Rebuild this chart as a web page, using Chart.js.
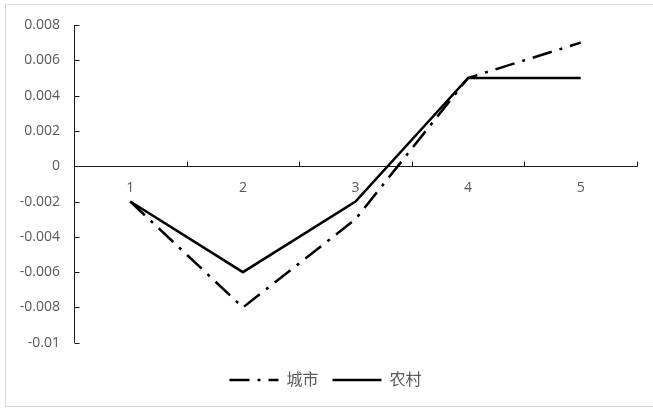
<!DOCTYPE html>
<html>
<head>
<meta charset="utf-8">
<script src="https://cdn.jsdelivr.net/npm/chart.js@4.4.1/dist/chart.umd.min.js"></script>
<style>
  html, body { margin: 0; padding: 0; background: #fff; overflow: hidden; }
  #wrap { position: relative; width: 653px; height: 408px; }
  #frame {
    position: absolute; left: 5px; top: 4px; width: 660px; height: 401px;
    border: 1px solid #d9d9d9; pointer-events: none;
  }
  canvas { position: absolute; left: 0; top: 0; }
</style>
</head>
<body>
<div id="wrap">
  <canvas id="chart" width="653" height="408"></canvas>
  <div id="frame"></div>
</div>
<script>
const categories = ["1", "2", "3", "4", "5"];
const cityValues = [-0.002, -0.008, -0.003, 0.005, 0.007];
const ruralValues = [-0.002, -0.006, -0.002, 0.005, 0.005];
const yTickLabels = ["-0.01", "-0.008", "-0.006", "-0.004", "-0.002", "0", "0.002", "0.004", "0.006", "0.008"];

const FONT = "'Open Sans', 'Noto Sans CJK SC', sans-serif";
const AXIS_COLOR = "#1a1a1a";

// axis lines with inward tick marks, like the office chart
const axisLines = {
  id: "axisLines",
  beforeDatasetsDraw(chart) {
    const { ctx, chartArea: { left, right }, scales: { x, y } } = chart;
    const zeroY = Math.round(y.getPixelForValue(0)) + 0.5;
    const axX = Math.round(left) + 0.5;
    const half = (x.getPixelForValue(1) - x.getPixelForValue(0)) / 2;
    ctx.save();
    ctx.strokeStyle = AXIS_COLOR;
    ctx.lineWidth = 1;
    ctx.beginPath();
    // y axis
    ctx.moveTo(axX, y.top);
    ctx.lineTo(axX, y.bottom);
    y.ticks.forEach((t) => {
      const py = Math.round(y.getPixelForValue(t.value)) + 0.5;
      ctx.moveTo(axX, py);
      ctx.lineTo(axX + 5, py);
    });
    // x axis at zero
    ctx.moveTo(axX, zeroY);
    ctx.lineTo(Math.round(right) + 0.5, zeroY);
    for (let i = 0; i < categories.length; i++) {
      const px = Math.round(x.getPixelForValue(i) + half) + 0.5;
      ctx.moveTo(px, zeroY);
      ctx.lineTo(px, zeroY - 5);
    }
    ctx.stroke();
    ctx.restore();
  },
};

new Chart(document.getElementById("chart"), {
  type: "line",
  data: {
    labels: categories,
    datasets: [
      {
        label: "城市",
        data: cityValues,
        borderColor: "#000",
        backgroundColor: "#000",
        borderWidth: 2.5,
        borderDash: [20, 8, 3, 8],
        pointRadius: 0,
        tension: 0,
      },
      {
        label: "农村",
        data: ruralValues,
        borderColor: "#000",
        backgroundColor: "#000",
        borderWidth: 2.5,
        pointRadius: 0,
        tension: 0,
      },
    ],
  },
  options: {
    responsive: false,
    animation: false,
    layout: { padding: { left: 14, right: 16, top: 25, bottom: 10 } },
    scales: {
      x: {
        type: "category",
        position: { y: 0 },
        offset: true,
        grid: { display: false, drawTicks: false, offset: true },
        border: { display: false },
        ticks: { color: "#595959", font: { family: FONT, size: 14 }, padding: 13, maxRotation: 0 },
      },
      y: {
        min: -0.01,
        max: 0.008,
        grid: { display: false, drawTicks: false },
        border: { display: false },
        afterFit: (scale) => { scale.width = 60; },
        ticks: {
          stepSize: 0.002,
          color: "#595959",
          font: { family: FONT, size: 14 },
          padding: 14,
          callback: (v, i) => yTickLabels[i],
        },
      },
    },
    plugins: {
      tooltip: { enabled: false },
      legend: {
        position: "bottom",
        title: { display: true, text: "", font: { size: 1 }, padding: { top: 0, bottom: 14 } },
        labels: {
          color: "#595959",
          font: { family: FONT, size: 16 },
          usePointStyle: true,
          pointStyle: "line",
          pointStyleWidth: 49,
          boxHeight: 16,
          padding: 14,
          generateLabels: (chart) => {
            const items = Chart.defaults.plugins.legend.labels.generateLabels(chart);
            items.forEach((it) => {
              it.lineDash = chart.data.datasets[it.datasetIndex].borderDash || [];
              it.lineWidth = 2.5;
            });
            return items;
          },
        },
      },
    },
  },
  plugins: [axisLines],
});
</script>
</body>
</html>
